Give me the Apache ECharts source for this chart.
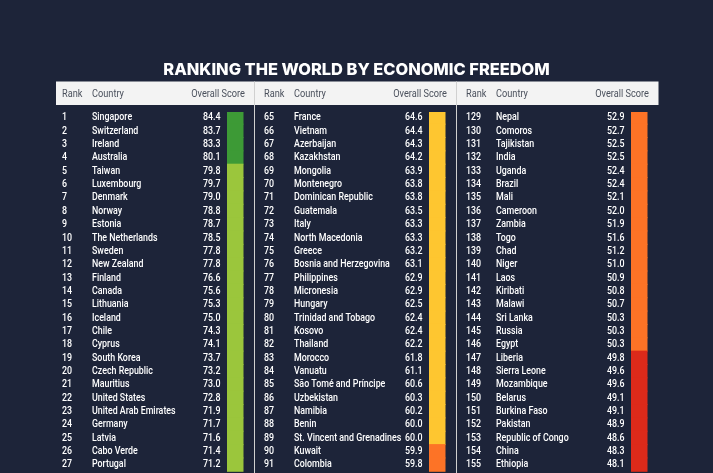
<!DOCTYPE html>
<html>
<head>
<meta charset="utf-8">
<script src="https://cdn.jsdelivr.net/npm/echarts@6/dist/echarts.min.js"></script>
<style>
html,body{margin:0;padding:0;background:#1d2439;}
#chart{width:713px;height:473px;}
</style>
</head>
<body>
<div id="chart"></div>
<script>
var titleText = 'RANKING THE WORLD BY ECONOMIC FREEDOM';
var headers = ['Rank', 'Country', 'Overall Score'];

var ranks1 = [1,2,3,4,5,6,7,8,9,10,11,12,13,14,15,16,17,18,19,20,21,22,23,24,25,26,27];
var countries1 = ['Singapore','Switzerland','Ireland','Australia','Taiwan','Luxembourg','Denmark','Norway','Estonia','The Netherlands','Sweden','New Zealand','Finland','Canada','Lithuania','Iceland','Chile','Cyprus','South Korea','Czech Republic','Mauritius','United States','United Arab Emirates','Germany','Latvia','Cabo Verde','Portugal'];
var scores1 = [84.4,83.7,83.3,80.1,79.8,79.7,79.0,78.8,78.7,78.5,77.8,77.8,76.6,75.6,75.3,75.0,74.3,74.1,73.7,73.2,73.0,72.8,71.9,71.7,71.6,71.4,71.2];

var ranks2 = [65,66,67,68,69,70,71,72,73,74,75,76,77,78,79,80,81,82,83,84,85,86,87,88,89,90,91];
var countries2 = ['France','Vietnam','Azerbaijan','Kazakhstan','Mongolia','Montenegro','Dominican Republic','Guatemala','Italy','North Macedonia','Greece','Bosnia and Herzegovina','Philippines','Micronesia','Hungary','Trinidad and Tobago','Kosovo','Thailand','Morocco','Vanuatu','São Tomé and Príncipe','Uzbekistan','Namibia','Benin','St. Vincent and Grenadines','Kuwait','Colombia'];
var scores2 = [64.6,64.4,64.3,64.2,63.9,63.8,63.8,63.5,63.3,63.3,63.2,63.1,62.9,62.9,62.5,62.4,62.4,62.2,61.8,61.1,60.6,60.3,60.2,60.0,60.0,59.9,59.8];

var ranks3 = [129,130,131,132,133,134,135,136,137,138,139,140,141,142,143,144,145,146,147,148,149,150,151,152,153,154,155];
var countries3 = ['Nepal','Comoros','Tajikistan','India','Uganda','Brazil','Mali','Cameroon','Zambia','Togo','Chad','Niger','Laos','Kiribati','Malawi','Sri Lanka','Russia','Egypt','Liberia','Sierra Leone','Mozambique','Belarus','Burkina Faso','Pakistan','Republic of Congo','China','Ethiopia'];
var scores3 = [52.9,52.7,52.5,52.5,52.4,52.4,52.1,52.0,51.9,51.6,51.2,51.0,50.9,50.8,50.7,50.3,50.3,50.3,49.8,49.6,49.6,49.1,49.1,48.9,48.6,48.3,48.1];

var tierMins = [80, 70, 60, 50, 0];
var tierColors = ['#3d9a36', '#9bc63c', '#fec630', '#fd7326', '#dc2a1a'];

function tierColor(s) {
  for (var i = 0; i < tierMins.length; i++) if (s >= tierMins[i]) return tierColors[i];
  return tierColors[tierColors.length - 1];
}

var FONT = 'Roboto, "Liberation Sans", sans-serif';
var cols = [
  {ranks: ranks1, countries: countries1, scores: scores1},
  {ranks: ranks2, countries: countries2, scores: scores2},
  {ranks: ranks3, countries: countries3, scores: scores3}
];
var colLeft = [56, 258, 460];
var colW = 202;
var gridTop = 110.3, gridH = 360.5;

function txtEl(x, y, text, align, fill, weight, z, size, sx) {
  return {
    type: 'text', x: x, y: y, scaleX: sx, z: z,
    style: {x: 0, y: 0, text: text, textAlign: align, textVerticalAlign: 'middle',
      fill: fill, font: (weight || 'normal') + ' ' + size + 'px ' + FONT}
  };
}

var grids = [], xAxes = [], yAxes = [], series = [];
cols.forEach(function (c, ci) {
  grids.push({left: colLeft[ci], top: gridTop, width: colW, height: gridH});
  xAxes.push({type: 'value', gridIndex: ci, min: 0, max: 1, show: false});
  yAxes.push({type: 'category', gridIndex: ci, inverse: true, data: c.countries, show: false,
    boundaryGap: true});
  series.push({
    type: 'custom',
    xAxisIndex: ci, yAxisIndex: ci,
    silent: true,
    data: c.scores.map(function (s, i) { return [0, i, s]; }),
    renderItem: function (params, api) {
      var i = api.value(1);
      var s = api.value(2);
      var y = api.coord([0, i])[1] + 0.5;
      var h = api.size([0, 1])[1];
      var x0 = params.coordSys.x;
      var base = x0 + 6;
      var top = y - 0.5 - h / 2;
      var hh = h + 1;
      if (i === 0) { top += 1.7; hh -= 1.7; }
      return {
        type: 'group',
        children: [
          {type: 'rect', shape: {x: x0 + 171, y: top, width: 16.5, height: hh},
            style: {fill: tierColor(s)}},
          txtEl(base, y, String(c.ranks[i]), 'left', '#ffffff', '500', 0, 11.5, 0.77),
          txtEl(base + 30, y, c.countries[i], 'left', '#ffffff', '500', 0, 11.5, 0.77),
          txtEl(x0 + 164.5, y, s.toFixed(1), 'right', '#ffffff', '500', 0, 11.5, 0.77)
        ]
      };
    }
  });
});

var graphics = [
  {type: 'rect', shape: {x: 56, y: 81.5, width: 602.5, height: 23.5}, style: {fill: '#f3f3f3'}, z: 0},
  {type: 'line', shape: {x1: 254.5, y1: 81.5, x2: 254.5, y2: 473}, style: {stroke: '#d0d0d0', lineWidth: 1}, z: 1},
  {type: 'line', shape: {x1: 456.5, y1: 81.5, x2: 456.5, y2: 473}, style: {stroke: '#d0d0d0', lineWidth: 1}, z: 1}
];
colLeft.forEach(function (x0) {
  graphics.push(txtEl(x0 + 6, 94, headers[0], 'left', '#4a505c', 'normal', 2, 11.5, 0.8));
  graphics.push(txtEl(x0 + 36, 94, headers[1], 'left', '#4a505c', 'normal', 2, 11.5, 0.8));
  graphics.push(txtEl(x0 + 189, 94, headers[2], 'right', '#4a505c', 'normal', 2, 11.5, 0.8));
});

var chart = echarts.init(document.getElementById('chart'));
chart.setOption({
  backgroundColor: '#1d2439',
  animation: false,
  title: {
    text: titleText, left: 'center', top: 57,
    textStyle: {color: '#ffffff', fontSize: 16.4, fontWeight: 800, fontFamily: 'Inter'}
  },
  grid: grids, xAxis: xAxes, yAxis: yAxes, series: series,
  graphic: graphics
});
</script>
</body>
</html>
